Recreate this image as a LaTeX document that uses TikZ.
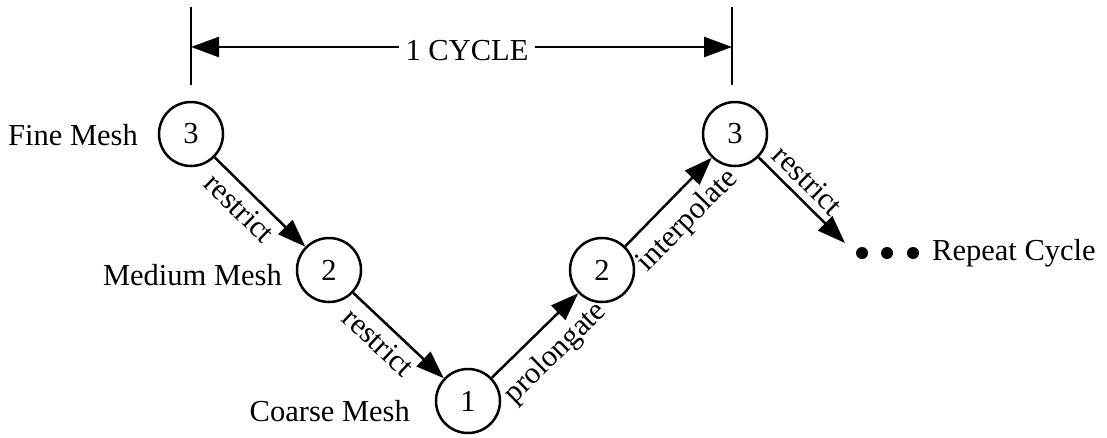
\documentclass[tikz,border=0pt]{standalone}
\usepackage{fontspec}
\setmainfont{Liberation Serif}
\usetikzlibrary{arrows.meta}
\begin{document}
\begin{tikzpicture}[x=1pt,y=-1pt,
  every node/.style={font=\fontsize{30.5}{36}\selectfont},
  mesh/.style={circle,draw,line width=2.5pt,minimum size=64pt,inner sep=0pt},
  conn/.style={line width=2.5pt,-{Triangle[length=28pt,width=20pt]}},
  bar/.style={line width=2.5pt},
  lab/.style={sloped,inner sep=7pt},
  labup/.style={sloped,inner sep=12pt},
  dotn/.style={circle,fill=black,minimum size=12pt,inner sep=0pt}]
\useasboundingbox (0,0) rectangle (1107,437);
% meshes
\node[mesh] (f3) at (191,134) {3};
\node[mesh] (m2) at (329,270) {2};
\node[mesh] (c1) at (468,401) {1};
\node[mesh] (p2) at (602,270) {2};
\node[mesh] (i3) at (735,134) {3};
% level labels
\node[anchor=base east,inner sep=0pt] (lf) at (138,145) {Fine Mesh};
\node[anchor=base east,inner sep=0pt] (lm) at (282,285) {Medium Mesh};
\node[anchor=base east,inner sep=0pt] (lc) at (410,421) {Coarse Mesh};
% connectors
\draw[conn] (f3) -- node[lab,below,pos=.42] {restrict} (m2);
\draw[conn] (m2) -- node[lab,below,pos=.42] {restrict} (c1);
\draw[conn] (c1) -- node[labup,below,pos=.52] {prolongate} (p2);
\draw[conn] (p2) -- node[labup,below,pos=.5] {interpolate} (i3);
\coordinate (rep) at (845,243);
\draw[conn] (i3) -- node[lab,above,pos=.42] {restrict} (rep);
% repeat
\node[dotn] (d1) at (862,253) {};
\node[dotn] (d2) at (887,253) {};
\node[dotn] (d3) at (913,253) {};
\node[anchor=base west,inner sep=0pt] (rc) at (932,260) {Repeat Cycle};
% cycle bracket
\coordinate (lt) at (191,7);
\coordinate (lb) at (191,85);
\coordinate (rt) at (732,7);
\coordinate (rb) at (732,85);
\draw[bar] (lt) -- (lb);
\draw[bar] (rt) -- (rb);
\coordinate (al) at (191,47);
\coordinate (ar) at (732,47);
\node[anchor=base,inner sep=6pt] (cyc) at (467,60) {1 CYCLE};
\draw[conn] (cyc.west |- al) -- (al);
\draw[conn] (cyc.east |- ar) -- (ar);
\end{tikzpicture}
\end{document}
